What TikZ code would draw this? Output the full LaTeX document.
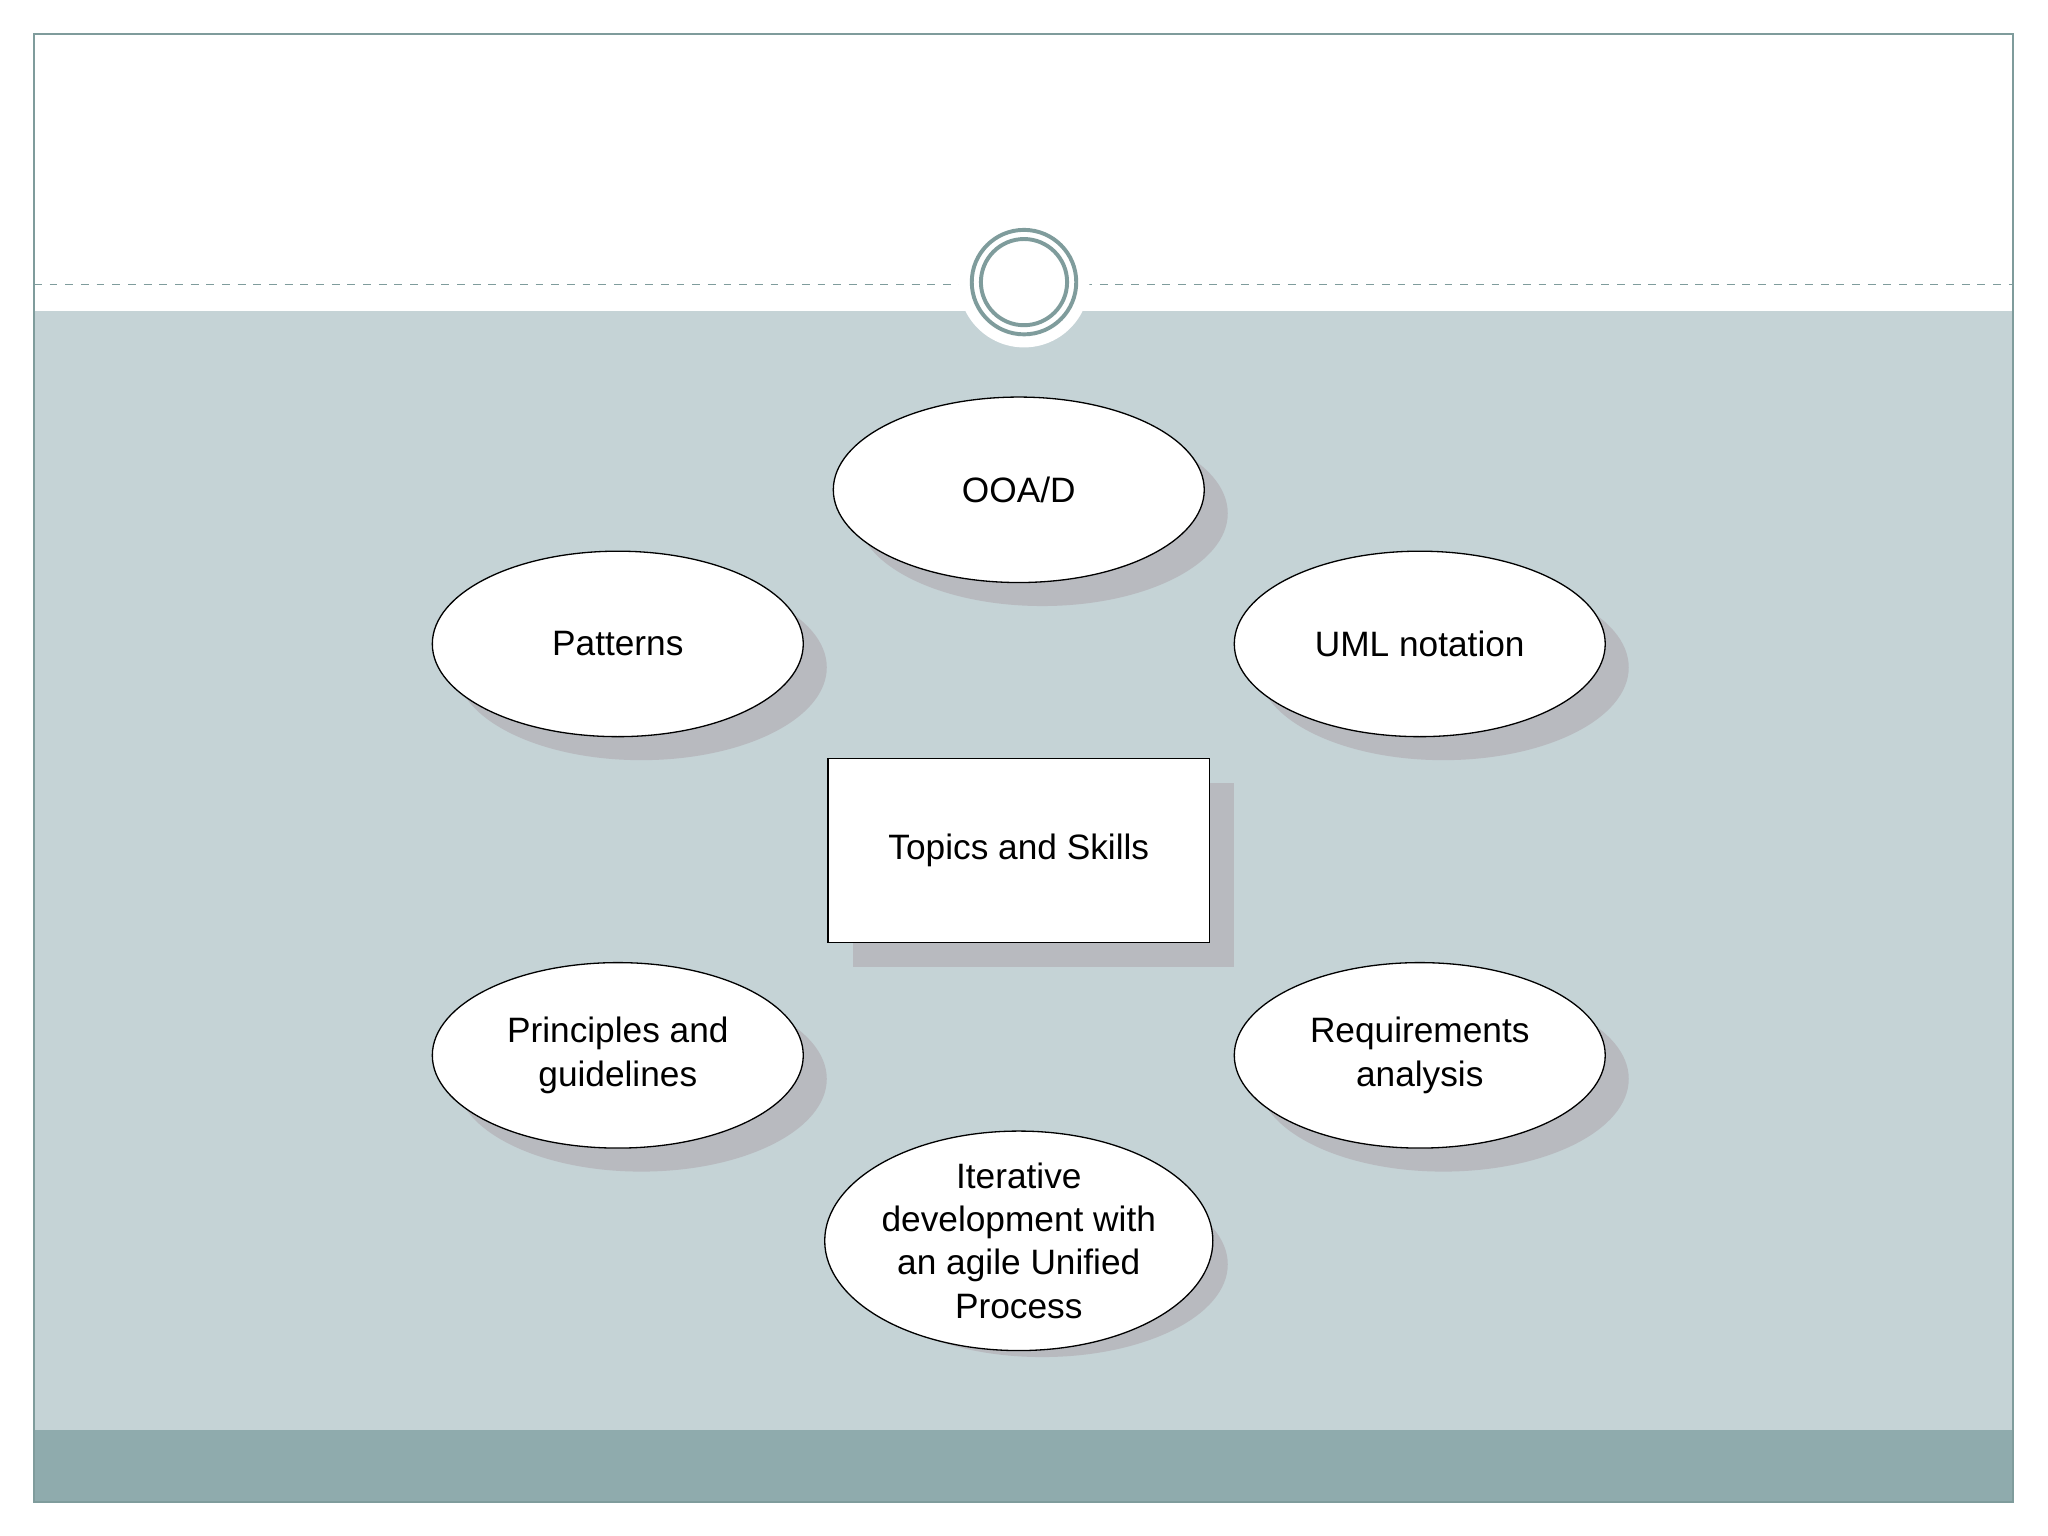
\documentclass[tikz,border=0pt]{standalone}
\usepackage{fontspec}
\setmainfont{Liberation Sans}
\usetikzlibrary{shapes.geometric}
\definecolor{bgblue}{HTML}{C5D3D6}
\definecolor{band}{HTML}{8FABAD}
\definecolor{frame}{HTML}{7F9C9C}
\definecolor{shad}{HTML}{B8BABF}
\tikzset{
 topic/.style={ellipse,draw=black,line width=0.5pt,fill=white,minimum width=142pt,minimum height=71pt,inner sep=0pt,align=center,font=\fontsize{13.5}{16.5}\selectfont},
 topicshadow/.style={ellipse,fill=shad,minimum width=142pt,minimum height=71pt,inner sep=0pt},
 centerbox/.style={rectangle,draw=black,line width=0.5pt,fill=white,minimum width=146pt,minimum height=70.5pt,font=\fontsize{13.5}{16.5}\selectfont},
 boxshadow/.style={rectangle,fill=shad,minimum width=146pt,minimum height=70.5pt}
}
\begin{document}
\begin{tikzpicture}[x=0.5pt,y=-0.5pt]
\useasboundingbox (0,0) rectangle (1568,1176);
\fill[white] (0,0) rectangle (1568,1176);
\fill[bgblue] (26,238) rectangle (1541,1095);
\fill[band] (26,1095) rectangle (1541,1150);
\draw[frame,line width=0.6pt] (26,26) rectangle (1541,1150);
\draw[frame,dashed,line width=0.5pt] (26,218) -- (1541,218);
\fill[white] (784,216) circle (50);
\draw[frame,line width=1.5pt] (784,216) circle (40);
\draw[frame,line width=1.5pt] (784,216) circle (33);
% shadows
\foreach \x/\y in {780/375,473/493,1087/493,473/808,1087/808,780/950}
  \node[topicshadow] at (\x+18,\y+18) {};
\node[boxshadow] at (799,670) {};
% nodes
\node[topic] (ooad) at (780,375) {OOA/D};
\node[topic] (pat) at (473,493) {Patterns};
\node[topic] (uml) at (1087,493) {UML notation};
\node[topic] (pri) at (473,808) {Principles and\\guidelines};
\node[topic] (req) at (1087,808) {Requirements\\analysis};
\node[topic] (iter) at (780,950) {Iterative\\development with\\an agile Unified\\Process};
\node[centerbox] (ts) at (780,651) {Topics and Skills};
\end{tikzpicture}
\end{document}
